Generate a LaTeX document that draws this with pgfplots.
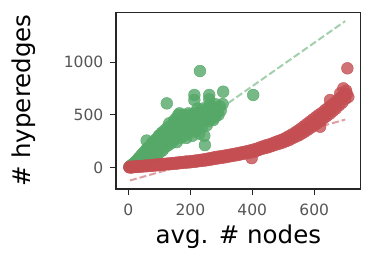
\documentclass[border=0pt]{standalone}
\usepackage{fontspec}
\setmainfont{DejaVu Sans}
\usepackage{pgfplots}
\pgfplotsset{compat=1.18}
\definecolor{sgreen}{HTML}{55A868}
\definecolor{sred}{HTML}{C44E52}
\definecolor{tickgray}{HTML}{555555}
\definecolor{spine}{HTML}{262626}
\begin{document}
\begin{tikzpicture}[x=1pt,y=1pt]
\useasboundingbox (0,0) rectangle (371,260);
\begin{axis}[
  at={(116pt,71pt)}, anchor=south west,
  scale only axis, width=244.7pt, height=176.7pt,
  xmin=-40, xmax=750, ymin=-206, ymax=1476,
  xtick={0,200,400,600}, ytick={0,500,1000},
  tick align=outside, tick pos=left,
  major tick length=6pt,
  axis line style={spine, line width=1.1pt},
  every tick/.style={spine, line width=1.1pt},
  /pgf/number format/assume math mode=true,
  /pgf/number format/1000 sep={},
  ticklabel style={font=\fontsize{15.5}{18}\selectfont, text=tickgray, inner sep=0pt},
  xticklabel style={anchor=north, yshift=-9pt},
  yticklabel style={anchor=east, xshift=-6.5pt},
  xlabel={avg. \# nodes}, ylabel={\# hyperedges},
  label style={font=\fontsize{24.5}{28}\selectfont, text=black, inner sep=0pt},
  xlabel style={at={(axis description cs:0.5,-0.3056)}, anchor=base},
  ylabel style={at={(axis description cs:-0.3486,0.5)}, anchor=base, rotate=0},
]
\addplot[only marks, mark=*, mark size=5.9pt, color=sgreen, mark options={draw=none, fill opacity=0.8}] coordinates {
(3,5)(6,12)(8,3)(10,20)(12,8)(14,30)(16,15)(18,40)(20,22)(22,50)(24,10)(26,60)(28,35)(30,75)(32,25)(34,90)(36,50)(38,70)(40,110)(42,30)(44,85)(46,130)(48,60)(50,100)(52,150)(54,40)(56,120)(58,170)(60,80)(59,255)(62,140)(64,190)(66,60)(68,110)(70,200)(72,160)(74,90)(76,230)(78,130)(80,180)(82,250)(84,100)(86,210)(88,150)(90,270)(92,120)(94,230)(96,180)(98,300)(100,140)(102,308)(104,250)(106,200)(108,330)(110,160)(112,280)(114,230)(116,350)(118,190)(120,300)(122,260)(124,609)(126,380)(128,210)(130,330)(132,419)(134,270)(136,360)(138,230)(140,400)(142,300)(144,250)(146,440)(148,340)(150,280)(152,460)(154,380)(156,240)(158,320)(161,498)(163,420)(165,514)(167,350)(169,280)(171,460)(173,390)(175,450)(177,300)(179,500)(181,420)(183,350)(185,480)(187,280)(189,440)(191,380)(194,514)(196,460)(198,330)(200,420)(202,500)(204,360)(206,300)(208,450)(210,400)(213,689)(213,641)(215,520)(217,350)(219,470)(221,420)(223,560)(225,380)(227,500)(229,320)(231,467)(231,917)(233,540)(235,430)(237,380)(239,490)(241,560)(243,440)(245,300)(247,212)(249,520)(251,470)(253,400)(255,560)(257,500)(259,440)(261,689)(261,648)(263,600)(265,520)(267,460)(269,580)(271,500)(274,450)(276,560)(278,520)(280,480)(282,600)(285,514)(288,560)(291,500)(295,580)(298,540)(304,603)(306,720)(403,689)
};
\addplot[only marks, mark=*, mark size=5.9pt, color=sred, mark options={draw=none, fill opacity=0.8}] coordinates {
(3,0)(5,6)(10,-2)(15,8)(20,3)(25,10)(30,4)(35,12)(40,6)(45,14)(50,9)(55,17)(60,11)(65,19)(70,14)(75,22)(80,16)(85,26)(90,19)(95,28)(100,21)(105,30)(110,24)(115,33)(120,27)(125,36)(130,29)(135,39)(140,32)(145,42)(150,34)(155,45)(160,37)(165,48)(170,41)(175,51)(180,43)(185,55)(190,46)(195,57)(200,48)(205,60)(210,52)(215,64)(220,55)(225,68)(230,60)(235,72)(240,63)(245,77)(250,66)(255,82)(260,70)(265,88)(270,76)(275,94)(280,81)(285,100)(290,86)(295,104)(300,90)(305,108)(310,95)(315,114)(320,101)(325,119)(330,106)(335,125)(340,111)(345,130)(350,116)(355,136)(360,122)(365,142)(370,128)(375,148)(380,134)(385,155)(390,140)(395,162)(400,146)(398,88)(405,170)(410,152)(415,178)(420,165)(425,190)(430,175)(435,200)(440,183)(445,210)(450,190)(455,218)(460,200)(465,228)(470,210)(475,240)(480,220)(485,252)(490,228)(495,262)(500,238)(505,275)(510,250)(515,292)(520,262)(525,308)(530,278)(535,325)(540,292)(545,345)(550,305)(555,365)(560,322)(565,388)(570,340)(575,410)(580,360)(585,432)(590,380)(595,455)(600,400)(605,478)(610,420)(615,500)(619,387)(620,445)(625,520)(630,465)(635,545)(640,488)(645,568)(650,510)(651,641)(655,590)(660,535)(665,612)(670,560)(675,640)(680,590)(684,705)(685,665)(690,615)(694,752)(695,690)(700,650)(703,730)(705,700)(707,943)(710,670)
};
\addplot[sgreen, opacity=0.55, line width=2pt, dash pattern=on 7pt off 3pt] coordinates {(5,-43) (700,1392)};
\addplot[sred, opacity=0.55, line width=2pt, dash pattern=on 7pt off 3pt] coordinates {(5,-125) (700,455)};
\end{axis}
\end{tikzpicture}
\end{document}
